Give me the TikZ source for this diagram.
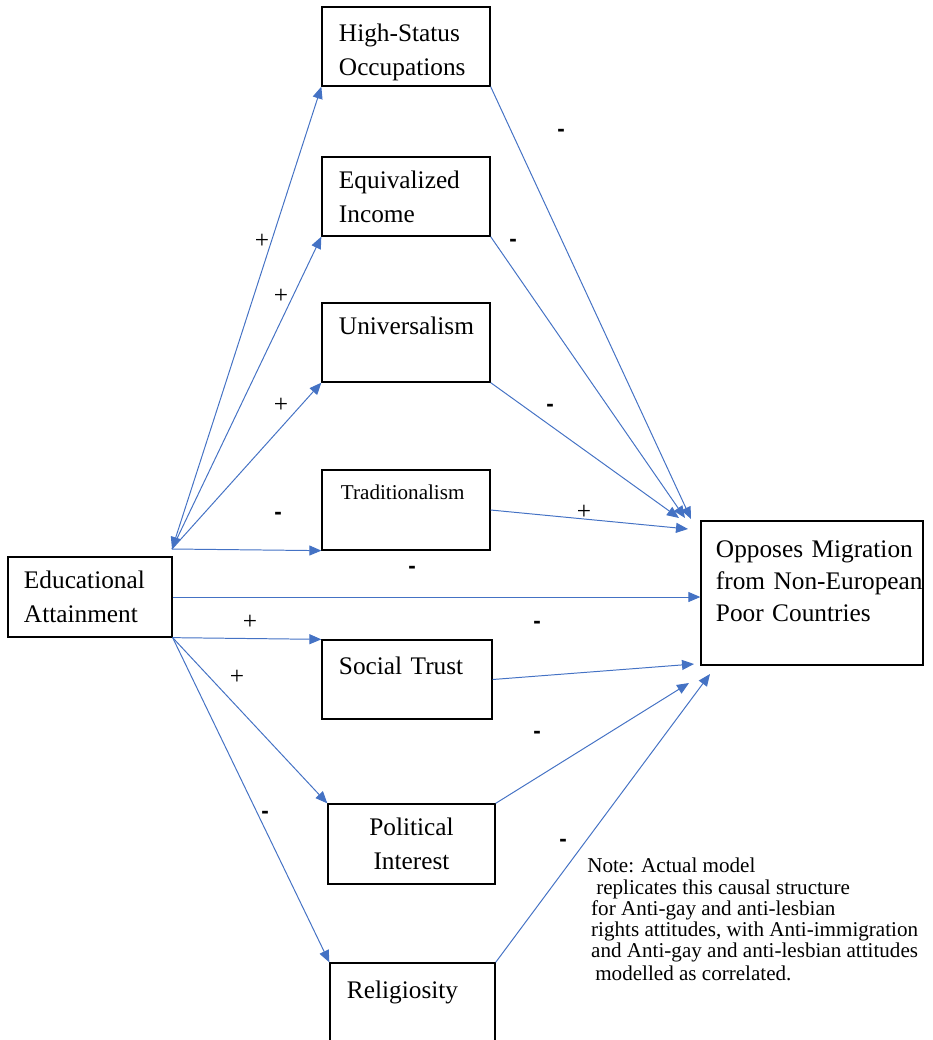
\documentclass[tikz,border=0pt]{standalone}
\usepackage{fontspec}
\setmainfont{Liberation Serif}
\newfontfamily\signfont{Liberation Sans}
\usetikzlibrary{arrows.meta}
\definecolor{pathblue}{RGB}{68,114,196}
\hyphenpenalty=10000
\exhyphenpenalty=10000

\begin{document}
\begin{tikzpicture}[x=0.025cm, y=-0.025cm,
    var/.style={draw, line width=0.9pt, inner ysep=0pt, inner xsep=0.425cm, align=left, font=\fontsize{18}{24}\selectfont},
    effect/.style={draw=pathblue, line width=0.7pt, -{Triangle[length=0.3cm,width=0.25cm]}},
    both/.style={{Triangle[length=0.3cm,width=0.25cm]}-{Triangle[length=0.3cm,width=0.25cm]}},
    plus/.style={font=\fontsize{18}{18}\selectfont},
    minus/.style={font=\signfont\bfseries\fontsize{16}{16}\selectfont}]
    \useasboundingbox (0,0) rectangle (933,1040);

    % Variabili
    \node[var, text width=3.35cm, minimum height=1.975cm] (hso) at (406,46.5) {\rule{0pt}{21pt}High-Status\\Occupations};
    \node[var, text width=3.35cm, minimum height=1.975cm] (inc) at (406,196.5) {Equivalized\\Income};
    \node[var, text width=3.35cm, minimum height=1.975cm] (uni) at (406,342.5) {\mbox{Universalism}\\[-7pt]\strut};
    \node[var, text width=3.25cm, inner xsep=0.475cm, minimum height=2cm, font=\fontsize{15}{24}\selectfont] (tra) at (406,510) {Traditionalism\\[-5.7pt]\strut};
    \node[var, text width=3.3cm, inner xsep=0.4cm, minimum height=2cm] (edu) at (90,597) {Educational\\Attainment};
    \node[var, text width=4.8cm, inner xsep=0.375cm, minimum height=3.6cm, font=\fontsize{18}{23}\selectfont] (opp) at (812,593) {\mbox{Opposes Migration}\\\mbox{from Non-European}\\Poor Countries\\[-12.8pt]\strut};
    \node[var, text width=3.4cm, minimum height=1.975cm] (soc) at (407,679.5) {Social Trust\\[-11.4pt]\strut};
    \node[var, align=center, text width=3.325cm, minimum height=2cm] (pol) at (411.5,844) {Political\\Interest};
    \node[var, text width=3.275cm, minimum height=1.975cm] (rel) at (412.5,1002.5) {Religiosity\\[-12.8pt]\strut};

    % Nota
    \node[anchor=north west, align=left, inner sep=0pt, font=\fontsize{15}{15}\selectfont] (note) at (587,858)
        {Note: Actual model\\
        \hspace*{6.4pt}replicates this causal structure\\
        \hspace*{2.8pt}for Anti-gay and anti-lesbian\\
        \hspace*{2.8pt}rights attitudes, with Anti-immigration\\
        \hspace*{2.8pt}and Anti-gay and anti-lesbian attitudes\\[1.5pt]
        \hspace*{5.7pt}modelled as correlated.};

    % Frecce da Educational Attainment
    \coordinate (src) at (172,549);
    \draw[effect, both] (src) -- (hso.south west);
    \draw[effect] (src) -- (inc.south west);
    \draw[effect] (src) -- (uni.south west);
    \draw[effect] (src) -- (tra.south west);
    \draw[effect] (edu.east) -- (opp.west |- edu.east);
    \draw[effect] (edu.south east) -- (soc.north west);
    \draw[effect] (edu.south east) -- (pol.north west);
    \draw[effect] (edu.south east) -- (rel.north west);

    % Frecce verso Opposes Migration
    \coordinate (in1) at (691,519);
    \coordinate (in2) at (685,518);
    \coordinate (in3) at (679,518);
    \coordinate (in4) at (688,529);
    \coordinate (in5) at (694,664);
    \coordinate (in6) at (689,683);
    \coordinate (in7) at (710,674);
    \draw[effect] (hso.south east) -- (in1);
    \draw[effect] (inc.south east) -- (in2);
    \draw[effect] (uni.south east) -- (in3);
    \draw[effect] (tra.east) -- (in4);
    \draw[effect] (soc.east) -- (in5);
    \draw[effect] (pol.north east) -- (in6);
    \draw[effect] (rel.north east) -- (in7);

    % Segni
    \node[plus] (p1) at (262,241) {+};
    \node[plus] (p2) at (281,296) {+};
    \node[plus] (p3) at (281,405) {+};
    \node[plus] (p4) at (584,512) {+};
    \node[plus] (p5) at (250,622) {+};
    \node[plus] (p6) at (237,677) {+};
    \node[minus] (m1) at (561,133) {-};
    \node[minus] (m2) at (513,243) {-};
    \node[minus] (m3) at (550,408) {-};
    \node[minus] (m4) at (278,516) {-};
    \node[minus] (m5) at (412,570) {-};
    \node[minus] (m6) at (537,625) {-};
    \node[minus] (m7) at (537,735) {-};
    \node[minus] (m8) at (265,815) {-};
    \node[minus] (m9) at (563,843) {-};
\end{tikzpicture}
\end{document}
